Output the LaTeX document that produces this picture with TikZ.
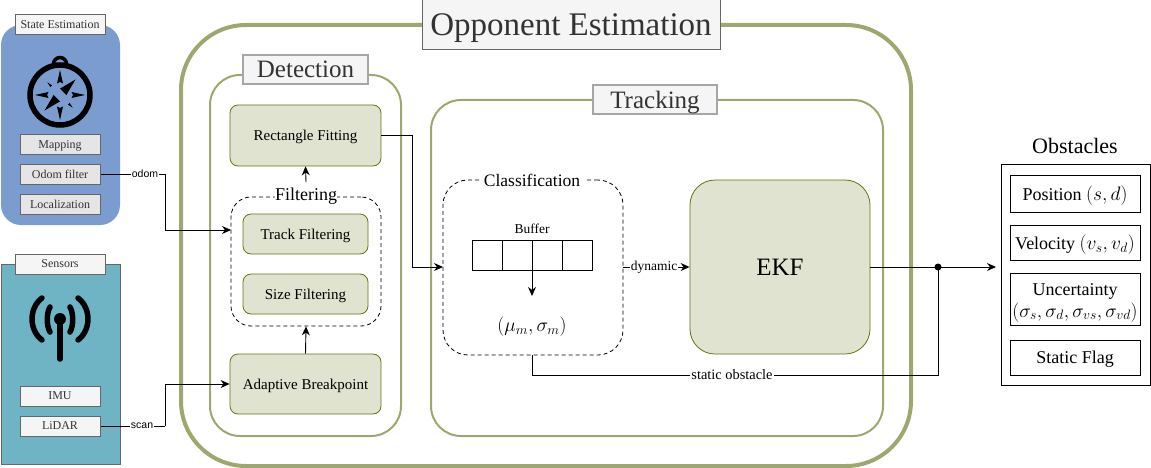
\documentclass[tikz,border=0pt]{standalone}
\usepackage{fix-cm}
\usepackage{amsmath}
\usepackage{fontspec}
\setmainfont{Liberation Serif}
\newfontfamily\arialfont{Liberation Sans}
\usepackage{xcolor}
\usetikzlibrary{arrows.meta}
\definecolor{groupline}{HTML}{9EA86E}
\definecolor{blockline}{HTML}{66750F}
\definecolor{blockfill}{HTML}{E0E3D0}
\definecolor{titlefill}{HTML}{F5F5F5}
\definecolor{titletext}{HTML}{333333}
\definecolor{stateblue}{HTML}{7A9CCF}
\definecolor{sensorteal}{HTML}{6FB4C5}
\newcommand{\obsmath}[1]{{\fontsize{19.5}{22}\selectfont$#1$}}
\tikzset{
	group/.style={draw=groupline,line width=2pt,rounded corners=30pt,inner sep=0pt},
	block/.style={draw=blockline,fill=blockfill,line width=.8pt,rounded corners=8pt,inner sep=0pt,text depth=0pt,font=\fontsize{15}{17}\selectfont},
	dashbox/.style={draw,dash pattern=on 4pt off 3pt,line width=.8pt,rounded corners=25pt,inner sep=0pt},
	title/.style={draw=black!35,fill=titlefill,line width=1.5pt,inner sep=0pt,text depth=0pt,text=titletext,font=\fontsize{25}{28}\selectfont},
	small/.style={draw=black!60,fill=black!10,line width=1pt,inner sep=0pt,minimum width=80pt,minimum height=20pt,text depth=0pt,text=titletext,font=\fontsize{12}{14}\selectfont},
	output/.style={draw,line width=.8pt,inner sep=0pt,minimum width=130pt,align=center,font=\fontsize{18}{22}\selectfont},
	cell/.style={draw,line width=.8pt,inner sep=0pt,minimum width=30pt,minimum height=30pt},
	wire/.style={line width=.9pt},
	arrow/.style={line width=.9pt,-{Stealth[length=9pt,width=8pt]}},
	tag/.style={fill=white,inner sep=1pt,font=\fontsize{13.5}{15}\selectfont},
	sanstag/.style={tag,font=\arialfont\fontsize{10.5}{12}\selectfont}
}
\begin{document}
\begin{tikzpicture}[x=1pt,y=-1pt]
	\useasboundingbox (0,0) rectangle (1151,468);

	% state estimation
	\node[fill=stateblue,rounded corners=20pt,inner sep=0pt,minimum width=119pt,minimum height=200pt] (state) at (60.5,125) {};
	\node[small,fill=titlefill,minimum width=90pt] (statetitle) at (60,25) {State Estimation};
	\node[small] (mapping) at (60,145) {Mapping};
	\node[small] (odomfilter) at (60,174) {Odom filter};
	\node[small] (localization) at (60,204) {Localization};

	% compass
	\draw[line width=5.5pt] (60,95) circle (30);
	\draw[line width=3.5pt] (53.5,64) arc (180:360:6.5);
	\foreach \a in {0,90,180,270}
		\fill[shift={(60,95)},rotate=\a] (0,-25) -- (3,-11.5) -- (0,-13) -- (-3,-11.5) -- cycle;
	\foreach \a in {-45,135}
		\fill[shift={(60,95)},rotate=\a] (0,-22) -- (4.5,-4.5) -- (-4.5,-4.5) -- cycle;
	\foreach \a in {45,225}
		\fill[shift={(60,95)},rotate=\a] (0,-18) -- (1.2,-12.5) -- (-1.2,-12.5) -- cycle;

	% sensors
	\node[draw=black!60,fill=sensorteal,line width=1pt,inner sep=0pt,minimum width=119pt,minimum height=200pt] (sensors) at (60.5,364) {};
	\node[small,fill=titlefill,minimum width=90pt] (sensortitle) at (60,264) {Sensors};
	\node[small,fill=titlefill] (imu) at (60,396) {IMU};
	\node[small,fill=titlefill] (lidar) at (60,426) {LiDAR};

	% antenna
	\fill (60,319) circle (6);
	\draw[line width=5.5pt,line cap=round] (60,319) -- (60,359);
	\foreach \s in {-1,1} {
		\draw[line width=5.5pt,line cap=round] (60+\s*10,307) .. controls (60+\s*13.6,313) and (60+\s*13.6,326) .. (60+\s*10,332);
		\draw[line width=5.5pt,line cap=round] (60+\s*18,298) .. controls (60+\s*31.3,308) and (60+\s*31.3,330) .. (60+\s*18,340);
	}

	% opponent estimation
	\node[draw=groupline,line width=4pt,rounded corners=65pt,inner sep=0pt,minimum width=730pt,minimum height=441pt] (opponent) at (546,245.5) {};
	\node[draw=black!60,fill=titlefill,line width=1pt,inner sep=0pt,minimum width=298pt,minimum height=50pt,text depth=0pt,text=titletext,font=\fontsize{33}{36}\selectfont] (opptitle) at (571,25) {Opponent Estimation};

	% detection
	\node[group,minimum width=191pt,minimum height=361pt] (detection) at (305.5,255.5) {};
	\node[title,minimum width=125pt,minimum height=29pt] (dettitle) at (305.5,69.5) {Detection};
	\node[block,minimum width=151pt,minimum height=61pt] (rect) at (305.5,135.5) {Rectangle Fitting};
	\node[dashbox,rounded corners=20pt,minimum width=150pt,minimum height=129pt] (filtering) at (306,261.5) {};
	\node[fill=white,inner sep=0pt,font=\fontsize{18}{20}\selectfont] (filtertitle) at (306,196) {Filtering};
	\node[block,minimum width=125pt,minimum height=40pt] (track) at (305.5,234) {Track Filtering};
	\node[block,minimum width=125pt,minimum height=40pt] (size) at (305.5,294) {Size Filtering};
	\node[block,minimum width=151pt,minimum height=60pt] (adaptive) at (305.5,384) {Adaptive Breakpoint};

	% tracking
	\node[group,minimum width=452pt,minimum height=336pt] (tracking) at (657,268) {};
	\node[title,minimum width=124pt,minimum height=29pt] (tracktitle) at (655,99.5) {Tracking};
	\node[dashbox,minimum width=180pt,minimum height=175pt] (classify) at (533,267.5) {};
	\node[fill=white,inner sep=4pt,font=\fontsize{17.5}{20}\selectfont] (classtitle) at (532,180) {Classification};
	\node[font=\fontsize{13.5}{15}\selectfont,inner sep=0pt] (buffer) at (532,229) {Buffer};
	\node[cell] (cella) at (487,255) {};
	\node[cell] (cellb) at (517,255) {};
	\node[cell] (cellc) at (547,255) {};
	\node[cell] (celld) at (577,255) {};
	\coordinate (bufout) at (532,270);
	\coordinate (bufend) at (532,296);
	\node[font=\fontsize{19.5}{22}\selectfont,inner sep=0pt] (moments) at (532,327) {$(\mu_m,\sigma_m)$};
	\node[block,rounded corners=25pt,minimum width=180pt,minimum height=174pt,font=\fontsize{25}{27}\selectfont] (ekf) at (780,267) {EKF};

	% obstacles
	\node[font=\fontsize{22}{24}\selectfont,inner sep=0pt] (obstitle) at (1075,146) {Obstacles};
	\node[draw,line width=.8pt,inner sep=0pt,minimum width=149pt,minimum height=221pt] (obstacles) at (1075.5,274.5) {};
	\node[output,text depth=0pt,minimum height=37pt] (position) at (1075,193.5) {Position \obsmath{(s,d)}};
	\node[output,text depth=0pt,minimum height=35pt] (velocity) at (1075,242.5) {Velocity \obsmath{(v_s,v_d)}};
	\node[output,minimum height=52pt] (uncertainty) at (1075,299) {\rule{0pt}{19pt}Uncertainty\\\obsmath{(\sigma_s,\sigma_d,\sigma_{vs},\sigma_{vd})}};
	\node[output,text depth=0pt,minimum height=35pt] (flag) at (1075,357.5) {Static Flag};

	% connectors
	\coordinate (odombend) at (165,174);
	\coordinate (scanbend) at (165,426);
	\coordinate (rectbend) at (412,135.5);
	\coordinate (filterin) at (231,230);
	\coordinate (filterout) at (306,182);
	\coordinate (classin) at (443,267);
	\coordinate (classout) at (532,355);
	\coordinate (staticbend) at (532,375);
	\coordinate (junction) at (938,267);
	\coordinate (ekfout) at (870,267);
	\coordinate (obsin) at (996,267);

	\draw[wire] (odomfilter.east) -- (odombend);
	\draw[arrow] (odombend) |- (filterin);
	\draw[wire] (lidar.east) -- (scanbend);
	\draw[arrow] (scanbend) |- (adaptive.west);
	\draw[arrow] (adaptive.north) -- (filtering.south);
	\draw[arrow] (filterout) -- (rect.south);
	\draw[arrow] (rect.east) -- (rectbend) |- (classin);
	\draw[arrow] (bufout) -- (bufend);
	\draw[arrow] (classify.east |- ekf.west) -- (ekf.west);
	\draw[arrow] (ekfout) -- (obsin);
	\draw[wire] (classout) -- (staticbend) -| (junction);
	\fill (junction) circle (3.5);

	\node[sanstag] (odomtag) at (145,174) {odom};
	\node[sanstag] (scantag) at (142,426) {scan};
	\node[tag] (dyntag) at (654,267) {dynamic};
	\node[tag,font=\fontsize{14.4}{16}\selectfont] (statictag) at (732,375) {static obstacle};
\end{tikzpicture}
\end{document}
